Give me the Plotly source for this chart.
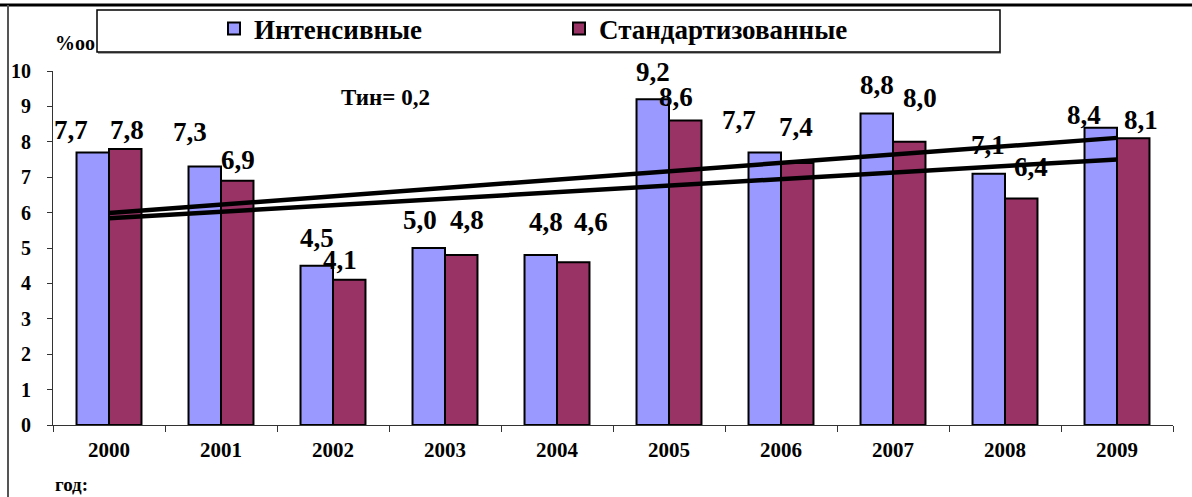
import numpy as np
import plotly.graph_objects as go

years = ["2000", "2001", "2002", "2003", "2004", "2005", "2006", "2007", "2008", "2009"]
intensive = [7.7, 7.3, 4.5, 5.0, 4.8, 9.2, 7.7, 8.8, 7.1, 8.4]
standard = [7.8, 6.9, 4.1, 4.8, 4.6, 8.6, 7.4, 8.0, 6.4, 8.1]
series_names = ["Интенсивные", "Стандартизованные"]
y_ticks = [0, 1, 2, 3, 4, 5, 6, 7, 8, 9, 10]

# label offsets (px) relative to bar centre / bar top, as placed in the original
int_dx = [-22, -15, 0, -9, 5, 0, -26, 0, -1, -17]
int_dy = [22, 35, 28, 28, 33, 27, 32, 28, 29, 13]
std_dx = [2, 1, -9, 6, 18, -9, -1, 11, 10, 8]
std_dy = [19, 21, 20, 35, 40, 24, 36, 44, 31, 18]

FONT = "Liberation Serif, Times New Roman, serif"
BLUE = "#9999FF"
RED = "#993366"

fig = go.Figure()
fig.add_trace(go.Bar(x=years, y=intensive, name=series_names[0],
                     marker=dict(color=BLUE, line=dict(color="black", width=2))))
fig.add_trace(go.Bar(x=years, y=standard, name=series_names[1],
                     marker=dict(color=RED, line=dict(color="black", width=2))))

xi = np.arange(len(years))
for vals in (intensive, standard):
    k, b = np.polyfit(xi, vals, 1)
    fig.add_trace(go.Scatter(x=years, y=k * xi + b, mode="lines",
                             line=dict(color="black", width=4.5),
                             showlegend=False, hoverinfo="skip"))

half = 16.25
for vals, dxs, dys, base in ((intensive, int_dx, int_dy, -half), (standard, std_dx, std_dy, half)):
    for i, (v, dx, dy) in enumerate(zip(vals, dxs, dys)):
        fig.add_annotation(x=i, y=v, xref="x", yref="y",
                           text=f"{v:.1f}".replace(".", ","),
                           showarrow=False, xshift=base + dx, yshift=dy,
                           xanchor="center", yanchor="middle",
                           font=dict(family=FONT, size=27, color="black", weight="bold"))

fig.add_annotation(x=(385 - 53) / 1120, y=(425 - 97) / 354, xref="paper", yref="paper",
                   text="Тин= 0,2", showarrow=False, xanchor="center", yanchor="middle",
                   font=dict(family=FONT, size=23, color="black", weight="bold"))
fig.add_annotation(x=(53 - 53) / 1120, y=(425 - 43) / 354, xref="paper", yref="paper",
                   text="%oo", showarrow=False, xanchor="left", yanchor="middle",
                   font=dict(family=FONT, size=20, color="black", weight="bold"))
fig.add_annotation(x=(53 - 53) / 1120, y=(425 - 484) / 354, xref="paper", yref="paper",
                   text="год:", showarrow=False, xanchor="left", yanchor="middle",
                   font=dict(family=FONT, size=19, color="black", weight="bold"))

# frame lines and legend box
fig.add_shape(type="line", xref="paper", yref="paper",
              x0=-53 / 1120, x1=(1192 - 53) / 1120, y0=(425 - 5) / 354, y1=(425 - 5) / 354,
              line=dict(color="black", width=3))
fig.add_shape(type="line", xref="paper", yref="paper",
              x0=(8 - 53) / 1120, x1=(8 - 53) / 1120, y0=(425 - 5) / 354, y1=(425 - 497) / 354,
              line=dict(color="#555555", width=2))
fig.add_shape(type="line", xref="paper", yref="paper",
              x0=(98 - 53) / 1120, x1=(1001 - 53) / 1120, y0=(425 - 53) / 354, y1=(425 - 53) / 354,
              line=dict(color="#888888", width=1.5))
fig.add_shape(type="rect", xref="paper", yref="paper",
              x0=(97 - 53) / 1120, x1=(1000 - 53) / 1120, y0=(425 - 52) / 354, y1=(425 - 10) / 354,
              line=dict(color="black", width=1.5), fillcolor="rgba(0,0,0,0)")

fig.update_layout(
    width=1192, height=497,
    margin=dict(l=53, r=19, t=71, b=72, autoexpand=False),
    plot_bgcolor="white", paper_bgcolor="white",
    barmode="group", bargap=0.42, bargroupgap=0,
    font=dict(family=FONT, color="black"),
    showlegend=True,
    legend=dict(orientation="h", x=(214 - 53) / 1120, y=(425 - 29) / 354,
                xanchor="left", yanchor="middle", bgcolor="rgba(0,0,0,0)",
                borderwidth=0, entrywidth=300, entrywidthmode="pixels",
                font=dict(family=FONT, size=27, color="black", weight="bold")),
    xaxis=dict(type="category", range=[-0.5, 9.5], showline=True, linecolor="#333333",
               linewidth=1, ticks="outside", ticklen=6, tickcolor="#333333",
               tickson="boundaries", tickangle=0,
               tickfont=dict(family=FONT, size=21, color="black", weight="bold"),
               showgrid=False, zeroline=False, ticklabelstandoff=6),
    yaxis=dict(range=[0, 10], tickvals=y_ticks, showline=True, linecolor="#333333",
               linewidth=1, ticks="outside", ticklen=5, tickcolor="#333333",
               tickfont=dict(family=FONT, size=20, color="black", weight="bold"),
               showgrid=False, zeroline=False, ticklabelstandoff=12),
)

fig.write_html("out.html", config={"displayModeBar": False},
               post_script="document.body.style.margin='0px';")
